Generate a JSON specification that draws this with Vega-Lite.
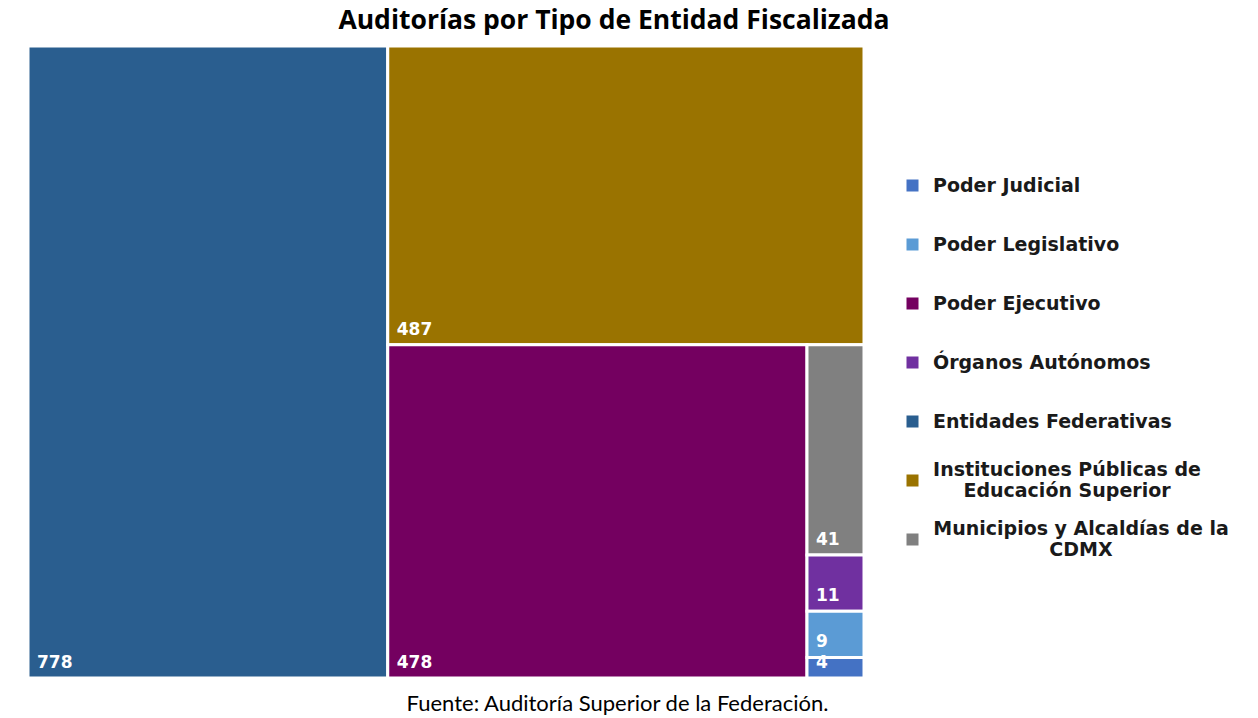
{
  "$schema": "https://vega.github.io/schema/vega-lite/v6.json",
  "width": 836,
  "height": 632,
  "autosize": {"type": "none"},
  "padding": {"left": 28, "top": 46, "right": 394, "bottom": 40},
  "background": "white",
  "title": {
    "text": "Auditorías por Tipo de Entidad Fiscalizada",
    "font": "Open Sans",
    "fontSize": 26.5,
    "fontWeight": "bold",
    "color": "#000000",
    "anchor": "middle",
    "frame": "group",
    "dx": 168,
    "dy": 27,
    "offset": 16,
    "baseline": "alphabetic"
  },
  "data": {
    "values": [
      {"name": "Entidades Federativas", "value": 778, "k1": "E", "k2": "E", "k3": "E", "ord": 1},
      {"name": "Instituciones Públicas de Educación Superior", "value": 487, "k1": "R", "k2": "I", "k3": "I", "ord": 1},
      {"name": "Poder Ejecutivo", "value": 478, "k1": "R", "k2": "P", "k3": "X", "ord": 1},
      {"name": "Municipios y Alcaldías de la CDMX", "value": 41, "k1": "R", "k2": "P", "k3": "C", "ord": 1},
      {"name": "Órganos Autónomos", "value": 11, "k1": "R", "k2": "P", "k3": "C", "ord": 2},
      {"name": "Poder Legislativo", "value": 9, "k1": "R", "k2": "P", "k3": "C", "ord": 3},
      {"name": "Poder Judicial", "value": 4, "k1": "R", "k2": "P", "k3": "C", "ord": 4}
    ]
  },
  "transform": [
    {"joinaggregate": [{"op": "sum", "field": "value", "as": "T"}]},
    {"joinaggregate": [{"op": "sum", "field": "value", "as": "S1"}], "groupby": ["k1"]},
    {"joinaggregate": [{"op": "sum", "field": "value", "as": "S2"}], "groupby": ["k2"]},
    {"joinaggregate": [{"op": "sum", "field": "value", "as": "S3"}], "groupby": ["k3"]},
    {"stack": "value", "groupby": ["k3"], "sort": [{"field": "ord", "order": "ascending"}], "as": ["c0", "c1"]},
    {"calculate": "datum.k1 == 'E' ? 0 : (datum.k2 == 'I' || datum.k3 == 'X') ? 1 - datum.S1 / datum.T : 1 - (datum.S1 / datum.T) * (datum.S3 / datum.S2)", "as": "x0"},
    {"calculate": "datum.k1 == 'E' ? datum.S1 / datum.T : datum.k3 == 'X' ? 1 - datum.S1 / datum.T + (datum.S1 / datum.T) * (datum.S3 / datum.S2) : 1", "as": "x1"},
    {"calculate": "(datum.k1 == 'E' || datum.k2 == 'I') ? 0 : 1 - datum.S2 / datum.S1 + (datum.S2 / datum.S1) * (datum.c0 / datum.S3)", "as": "y0"},
    {"calculate": "datum.k1 == 'E' ? 1 : datum.k2 == 'I' ? datum.S2 / datum.S1 : 1 - datum.S2 / datum.S1 + (datum.S2 / datum.S1) * (datum.c1 / datum.S3)", "as": "y1"}
  ],
  "layer": [
    {
      "mark": {"type": "rect", "stroke": "white", "strokeWidth": 3},
      "encoding": {
        "x": {
          "field": "x0", "type": "quantitative",
          "scale": {"domain": [0, 1], "nice": false, "zero": false},
          "axis": {
            "title": "Fuente: Auditoría Superior de la Federación.",
            "labels": false, "ticks": false, "domain": false, "grid": false,
            "titleFont": "Lato", "titleFontSize": 22, "titleFontWeight": "normal", "titleColor": "#000000",
            "titleX": 589, "titleY": 32, "titleAlign": "center", "titleBaseline": "alphabetic"
          }
        },
        "x2": {"field": "x1"},
        "y": {
          "field": "y0", "type": "quantitative",
          "scale": {"domain": [0, 1], "nice": false, "zero": false, "reverse": true},
          "axis": null
        },
        "y2": {"field": "y1"},
        "color": {
          "field": "name", "type": "nominal",
          "scale": {
            "domain": ["Poder Judicial", "Poder Legislativo", "Poder Ejecutivo", "Órganos Autónomos", "Entidades Federativas", "Instituciones Públicas de Educación Superior", "Municipios y Alcaldías de la CDMX"],
            "range": ["#4472C4", "#5B9BD5", "#740060", "#7030A0", "#2A5E8F", "#9A7300", "#808080"]
          },
          "legend": {
            "title": null,
            "orient": "none",
            "legendX": 875,
            "legendY": 110,
            "clipHeight": 59,
            "rowPadding": 0,
            "symbolType": "square",
            "symbolSize": 144,
            "symbolStrokeWidth": 0,
            "symbolOpacity": 1,
            "labelFont": "DejaVu Sans",
            "labelFontSize": 19,
            "labelFontWeight": "bold",
            "labelColor": "#1a1a1a",
            "labelOffset": {"expr": "datum.label == 'Instituciones Públicas de Educación Superior' ? 145 : datum.label == 'Municipios y Alcaldías de la CDMX' ? 159 : 11"},
            "labelAlign": {"expr": "length(datum.label) > 25 ? 'center' : 'left'"},
            "labelBaseline": {"expr": "length(datum.label) > 25 ? 'line-bottom' : 'middle'"},
            "labelLimit": 400,
            "labelExpr": "datum.label == 'Instituciones Públicas de Educación Superior' ? ['Instituciones Públicas de', 'Educación Superior'] : datum.label == 'Municipios y Alcaldías de la CDMX' ? ['Municipios y Alcaldías de la', 'CDMX'] : datum.label"
          }
        }
      }
    },
    {
      "mark": {"type": "text", "align": "left", "baseline": "alphabetic", "dx": 9, "dy": -10, "font": "DejaVu Sans", "fontSize": 17, "fontWeight": "bold", "color": "white"},
      "encoding": {
        "x": {"field": "x0", "type": "quantitative"},
        "y": {"field": "y1", "type": "quantitative"},
        "text": {"field": "value", "type": "quantitative"}
      }
    }
  ]
}
